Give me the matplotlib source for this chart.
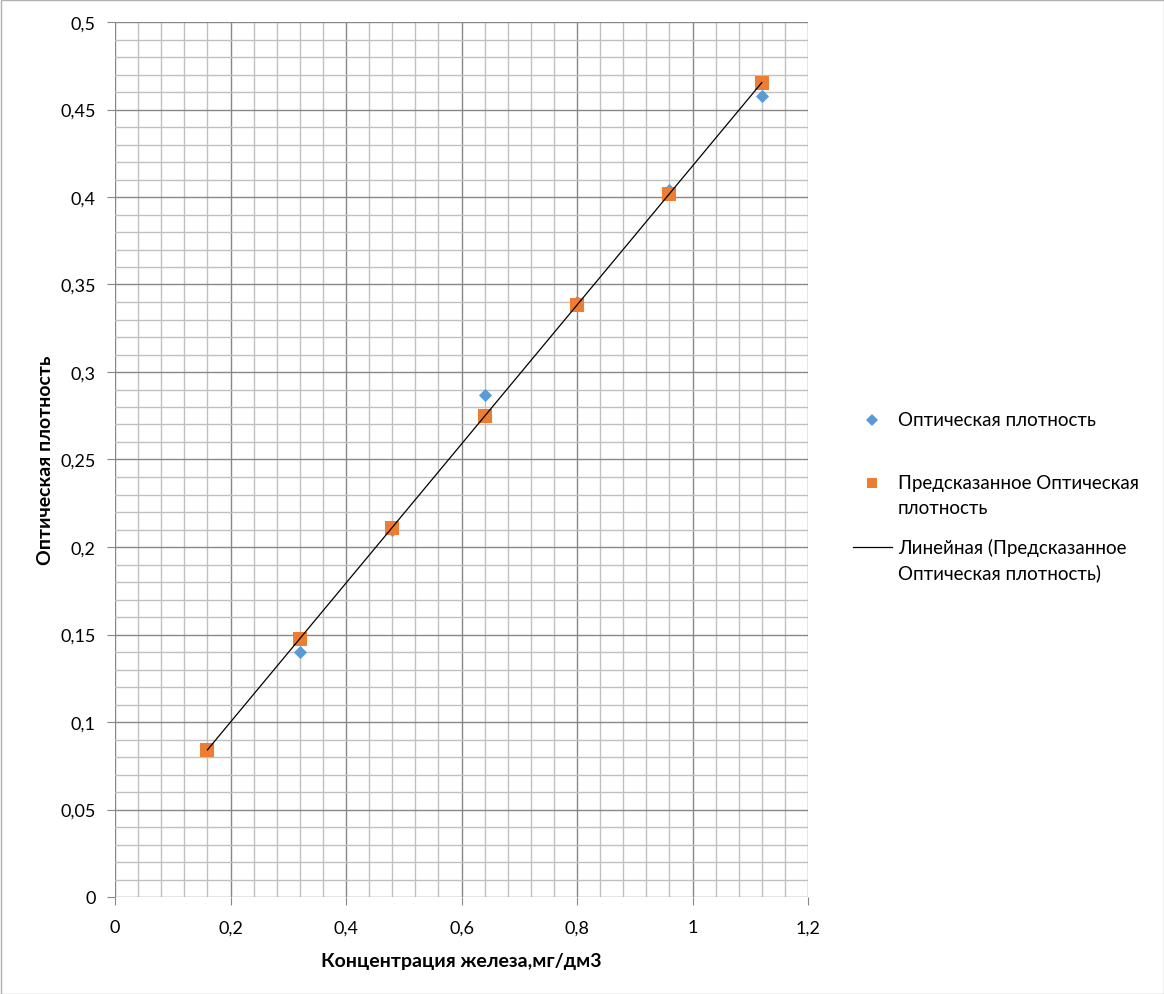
import numpy as np
import matplotlib.pyplot as plt
from matplotlib.ticker import MultipleLocator, FuncFormatter
from matplotlib.lines import Line2D
from matplotlib.patches import Rectangle

plt.rcParams['font.family'] = ['Lato', 'DejaVu Sans']

conc = [0.16, 0.32, 0.48, 0.64, 0.80, 0.96, 1.12]
optical = [0.084, 0.140, 0.210, 0.287, 0.340, 0.404, 0.458]
predicted = [0.084, 0.1475, 0.211, 0.275, 0.3385, 0.402, 0.465]

blue = '#5b9bd5'
orange = '#ed7d31'

W, H = 1164, 995


def comma(v, pos):
    s = ('%.2f' % v).rstrip('0').rstrip('.')
    return s.replace('.', ',')


def fx(px):
    return px / W


def fy(py):
    return 1 - py / H


fig = plt.figure(figsize=(W / 100, H / 100), dpi=100)
ax = fig.add_axes([fx(115), fy(898), (808 - 115) / W, (898 - 23) / H])

ax.scatter(conc, optical, marker='D', s=45, color=blue, zorder=3, linewidths=0)
ax.scatter(conc, predicted, marker='s', s=110, color=orange, zorder=4, linewidths=0)

k, b = np.polyfit(conc, predicted, 1)
xs = np.array([conc[0], conc[-1]])
ax.plot(xs, k * xs + b, color='black', lw=0.9, zorder=5)

ax.set_xlim(0, 1.2)
ax.set_ylim(0, 0.5)
ax.xaxis.set_major_locator(MultipleLocator(0.2))
ax.xaxis.set_minor_locator(MultipleLocator(0.04))
ax.yaxis.set_major_locator(MultipleLocator(0.05))
ax.yaxis.set_minor_locator(MultipleLocator(0.01))
ax.xaxis.set_major_formatter(FuncFormatter(comma))
ax.yaxis.set_major_formatter(FuncFormatter(comma))

ax.grid(which='major', color='#878787', lw=1.0)
ax.grid(which='minor', color='#c0c0c0', lw=1.0)
ax.set_axisbelow(True)
for sp in ax.spines.values():
    sp.set_visible(False)
ax.tick_params(which='major', length=6, color='#878787', labelsize=13, pad=8)
ax.tick_params(which='minor', length=0)
ax.tick_params(axis='x', pad=10)

ax.set_xlabel('Концентрация железа,мг/дм3', fontsize=14, fontweight='bold', labelpad=12)
ax.set_ylabel('Оптическая плотность', fontsize=14, fontweight='bold', labelpad=4)

# legend drawn by hand to match the uneven spacing of the original
fig.add_artist(Line2D([fx(872)], [fy(421)], marker='D', color=blue, markersize=6,
                      markeredgewidth=0, transform=fig.transFigure))
fig.add_artist(Line2D([fx(872)], [fy(484)], marker='s', color=orange, markersize=7.5,
                      markeredgewidth=0, transform=fig.transFigure))
fig.add_artist(Line2D([fx(853), fx(892)], [fy(548), fy(548)], color='black', lw=0.9,
                      transform=fig.transFigure))
fig.text(fx(898), fy(421), 'Оптическая плотность', fontsize=13.5, va='center')
fig.text(fx(898), fy(484), 'Предсказанное Оптическая', fontsize=13.5, va='center')
fig.text(fx(898), fy(509), 'плотность', fontsize=13.5, va='center')
fig.text(fx(898), fy(548), 'Линейная (Предсказанное', fontsize=13.5, va='center')
fig.text(fx(898), fy(573), 'Оптическая плотность)', fontsize=13.5, va='center')

fig.patches.append(Rectangle((0.5 / W, 0.5 / H), 1 - 1 / W, 1 - 1 / H,
                             transform=fig.transFigure, fill=False,
                             edgecolor='#b0b0b0', lw=1))

fig.savefig('out.png', dpi=100)
